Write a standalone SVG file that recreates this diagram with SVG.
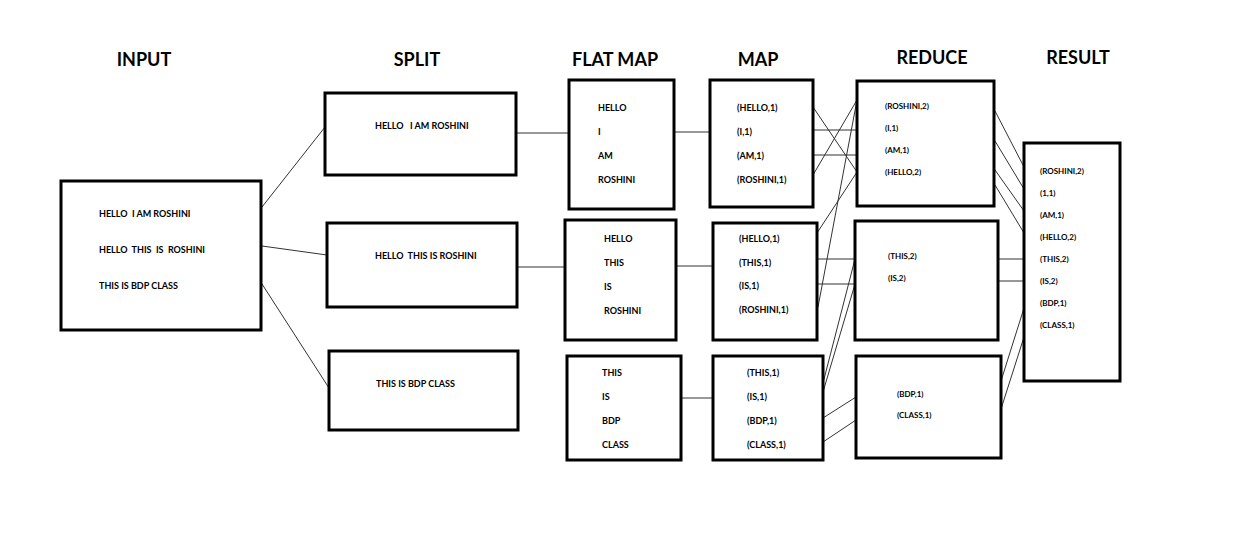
<svg xmlns="http://www.w3.org/2000/svg" width="1236" height="545" viewBox="0 0 1236 545">
<style>
.box{fill:#fff;stroke:#000;stroke-width:3}
.title{font-family:Lato,"Liberation Sans",sans-serif;font-weight:bold;font-size:18px;fill:#000;text-anchor:middle}
.t{font-family:Lato,"Liberation Sans",sans-serif;font-weight:bold;font-size:9px;fill:#000}
.s{font-family:Lato,"Liberation Sans",sans-serif;font-weight:bold;font-size:8px;fill:#000}
.c line{stroke:#333;stroke-width:1}
</style>
<rect width="1236" height="545" fill="#fff"/>
<g id="titles">
<text class="title" x="144" y="66">INPUT</text>
<text class="title" x="417" y="66">SPLIT</text>
<text class="title" x="615" y="66">FLAT MAP</text>
<text class="title" x="758" y="66">MAP</text>
<text class="title" x="932" y="64">REDUCE</text>
<text class="title" x="1078" y="64">RESULT</text>
</g>
<g id="connectors" class="c">
<line x1="262" y1="207" x2="325" y2="127"/>
<line x1="262" y1="246" x2="327" y2="255"/>
<line x1="262" y1="284" x2="329" y2="388"/>
<line x1="516" y1="133" x2="569" y2="133"/>
<line x1="517" y1="267" x2="565" y2="267"/>
<line x1="674" y1="132" x2="710" y2="132"/>
<line x1="676" y1="266" x2="713" y2="266"/>
<line x1="681" y1="398" x2="713" y2="398"/>
<line x1="813" y1="107" x2="857" y2="172"/>
<line x1="813" y1="130" x2="857" y2="130"/>
<line x1="813" y1="155" x2="857" y2="155"/>
<line x1="813" y1="175" x2="857" y2="100"/>
<line x1="817" y1="233" x2="857" y2="172"/>
<line x1="818" y1="307" x2="857" y2="100"/>
<line x1="817" y1="259" x2="855" y2="259"/>
<line x1="817" y1="284" x2="855" y2="284"/>
<line x1="823" y1="383" x2="855" y2="259"/>
<line x1="823" y1="392" x2="855" y2="284"/>
<line x1="823" y1="418" x2="856" y2="397"/>
<line x1="823" y1="442" x2="856" y2="420"/>
<line x1="995" y1="111" x2="1024" y2="167"/>
<line x1="995" y1="141" x2="1024" y2="189"/>
<line x1="995" y1="170" x2="1024" y2="211"/>
<line x1="995" y1="185" x2="1024" y2="233"/>
<line x1="998" y1="259" x2="1024" y2="259"/>
<line x1="998" y1="281" x2="1024" y2="281"/>
<line x1="1001" y1="381" x2="1024" y2="308"/>
<line x1="1001" y1="409" x2="1024" y2="337"/>
</g>
<g id="input">
<rect class="box" x="61" y="181" width="200" height="149"/>
<text class="t" x="99" y="217" xml:space="preserve">HELLO  I AM ROSHINI</text>
<text class="t" x="99" y="253" xml:space="preserve">HELLO  THIS  IS  ROSHINI</text>
<text class="t" x="99" y="289">THIS IS BDP CLASS</text>
</g>
<g id="split1">
<rect class="box" x="325" y="93" width="191" height="82"/>
<text class="t" x="375" y="129" xml:space="preserve">HELLO   I AM ROSHINI</text>
</g>
<g id="split2">
<rect class="box" x="327" y="223" width="190" height="84"/>
<text class="t" x="375" y="259" xml:space="preserve">HELLO  THIS IS ROSHINI</text>
</g>
<g id="split3">
<rect class="box" x="329" y="351" width="189" height="79"/>
<text class="t" x="376" y="387">THIS IS BDP CLASS</text>
</g>
<g id="flatmap1">
<rect class="box" x="569" y="80" width="105" height="129"/>
<text class="t" x="598" y="111">HELLO</text>
<text class="t" x="598" y="135">I</text>
<text class="t" x="598" y="159">AM</text>
<text class="t" x="598" y="183">ROSHINI</text>
</g>
<g id="flatmap2">
<rect class="box" x="565" y="220" width="111" height="120"/>
<text class="t" x="604" y="242">HELLO</text>
<text class="t" x="604" y="266">THIS</text>
<text class="t" x="604" y="290">IS</text>
<text class="t" x="604" y="314">ROSHINI</text>
</g>
<g id="flatmap3">
<rect class="box" x="567" y="356" width="114" height="104"/>
<text class="t" x="602" y="376">THIS</text>
<text class="t" x="602" y="400">IS</text>
<text class="t" x="602" y="424">BDP</text>
<text class="t" x="602" y="448">CLASS</text>
</g>
<g id="map1">
<rect class="box" x="710" y="80" width="103" height="127"/>
<text class="t" x="737" y="111">(HELLO,1)</text>
<text class="t" x="737" y="135">(I,1)</text>
<text class="t" x="737" y="159">(AM,1)</text>
<text class="t" x="737" y="183">(ROSHINI,1)</text>
</g>
<g id="map2">
<rect class="box" x="713" y="223" width="104" height="117"/>
<text class="t" x="739" y="242">(HELLO,1)</text>
<text class="t" x="739" y="266">(THIS,1)</text>
<text class="t" x="739" y="289">(IS,1)</text>
<text class="t" x="739" y="313">(ROSHINI,1)</text>
</g>
<g id="map3">
<rect class="box" x="713" y="356" width="110" height="104"/>
<text class="t" x="747" y="376">(THIS,1)</text>
<text class="t" x="747" y="400">(IS,1)</text>
<text class="t" x="747" y="424">(BDP,1)</text>
<text class="t" x="747" y="448">(CLASS,1)</text>
</g>
<g id="reduce1">
<rect class="box" x="857" y="81" width="137" height="125"/>
<text class="s" x="885" y="109">(ROSHINI,2)</text>
<text class="s" x="885" y="131">(I,1)</text>
<text class="s" x="885" y="153">(AM,1)</text>
<text class="s" x="885" y="175">(HELLO,2)</text>
</g>
<g id="reduce2">
<rect class="box" x="855" y="221" width="143" height="119"/>
<text class="s" x="888" y="259">(THIS,2)</text>
<text class="s" x="888" y="281">(IS,2)</text>
</g>
<g id="reduce3">
<rect class="box" x="856" y="356" width="145" height="102"/>
<text class="s" x="897" y="397">(BDP,1)</text>
<text class="s" x="897" y="418">(CLASS,1)</text>
</g>
<g id="result">
<rect class="box" x="1024" y="143" width="96" height="238"/>
<text class="s" x="1040" y="174">(ROSHINI,2)</text>
<text class="s" x="1040" y="196">(1,1)</text>
<text class="s" x="1040" y="218">(AM,1)</text>
<text class="s" x="1040" y="240">(HELLO,2)</text>
<text class="s" x="1040" y="262">(THIS,2)</text>
<text class="s" x="1040" y="284">(IS,2)</text>
<text class="s" x="1040" y="306">(BDP,1)</text>
<text class="s" x="1040" y="328">(CLASS,1)</text>
</g>
</svg>
